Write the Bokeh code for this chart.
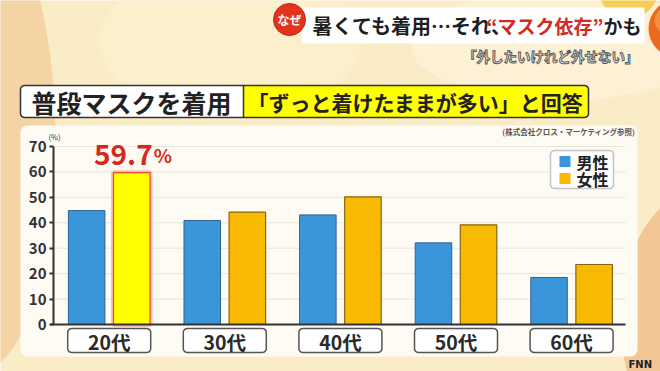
import numpy as np
from bokeh.plotting import figure
from bokeh.models import Range1d, FixedTicker, ColumnDataSource
from bokeh.core.properties import value
from bokeh.embed import file_html
from bokeh.resources import INLINE

# ---------------- data ----------------
cats = ["20代", "30代", "40代", "50代", "60代"]
series = ["男性", "女性"]
male = [44.8, 40.9, 43.1, 32.1, 18.5]
female = [59.7, 44.2, 50.2, 39.2, 23.6]
yticks = [0, 10, 20, 30, 40, 50, 60, 70]

badge = "なぜ"
title_a = "暑くても着用…それ、"
title_b = "“マスク依存”"
title_c = "かも"
subtitle = "「外したいけれど外せない」"
banner_l = "普段マスクを着用"
banner_r = "「ずっと着けたままが多い」と回答"
source = "(株式会社クロス・マーケティング参照)"
unit = "(%)"
logo = "FNN"

# ---------------- geometry ----------------
W, H = 660, 371
GX0, GDX = 108.7, 115.6        # px of first group centre, px per group
Y0, DY = 324.0, 178.0 / 70     # px of 0 %, px per %
x_lo, x_hi = -GX0 / GDX, (W - GX0) / GDX
y_lo, y_hi = -(H - Y0) / DY, Y0 / DY


def X(px):
    return x_lo + px / GDX


def Y(py):
    return (Y0 - py) / DY


def PX(x):
    return (x - x_lo) * GDX


def rrect(x0, y0, x1, y1, r, n=7):
    xs, ys = [], []
    for cx, cy, a0 in [(x1 - r, y0 + r, -90), (x1 - r, y1 - r, 0),
                       (x0 + r, y1 - r, 90), (x0 + r, y0 + r, 180)]:
        for a in np.linspace(a0, a0 + 90, n):
            t = np.radians(a)
            xs.append(X(cx + r * np.cos(t)))
            ys.append(Y(cy + r * np.sin(t)))
    return xs, ys


FONT = value("Noto Sans CJK JP")
BOLD = value("bold")
C_MALE, C_FEMALE, C_HI = "#3A96D9", "#F7BA00", "#FFFF00"

p = figure(width=W, height=H, x_range=Range1d(x_lo, x_hi), y_range=Range1d(y_lo, y_hi),
           output_backend="svg", toolbar_location=None, min_border=0)
p.background_fill_color = "#FAECC6"
p.border_fill_color = "#FAECC6"
p.outline_line_color = None
p.grid.visible = False
p.xaxis.visible = False

# ---------------- background ----------------
p.ellipse(x=[X(-20)], y=[Y(140)], width=[150 / GDX], height=[460 / DY],
          fill_color="#F2CC98", fill_alpha=0.75, line_color=None)
p.ellipse(x=[X(230)], y=[Y(40)], width=[260 / GDX], height=[160 / DY],
          fill_color="#FBF1CF", fill_alpha=0.7, line_color=None)
p.ellipse(x=[X(700)], y=[Y(320)], width=[160 / GDX], height=[260 / DY],
          fill_color="#F0BE88", fill_alpha=0.8, line_color=None)
p.ellipse(x=[X(560)], y=[Y(45)], width=[300 / GDX], height=[110 / DY],
          fill_color="#FCF4DC", fill_alpha=0.7, line_color=None)

# chart panel
xs, ys = rrect(20, 125, 637, 356, 7)
p.patch(xs, ys, fill_color="#FDFBF3", line_color=None)

# ---------------- header ----------------
p.scatter(x=[X(628)], y=[Y(-12)], size=60, marker="circle", fill_color="#F8CF55", line_color=None)
p.scatter(x=[X(677)], y=[Y(28)], size=58, marker="circle", fill_color="#EC6A1E", line_color=None)
p.scatter(x=[X(667)], y=[Y(20)], size=26, marker="circle", fill_color="#F7A04A", fill_alpha=0.7, line_color=None)

xs, ys = rrect(301, 7, 644, 43, 2)
p.patch(xs, ys, fill_color="#FFFFFF", line_color=None)
p.scatter(x=[X(289)], y=[Y(19)], size=32, marker="circle", fill_color="#E2331F", line_color="#C0210F")
p.text(x=[X(289)], y=[Y(19)], text=[badge], text_font=FONT, text_font_style=BOLD,
       text_font_size=value("12px"), text_color="#FFFFFF", text_align="center", text_baseline="middle")
p.text(x=[X(312)], y=[Y(25)], text=[title_a], text_font=FONT, text_font_style=BOLD,
       text_font_size=value("20px"), text_color="#1E1E1E", text_align="left", text_baseline="middle")
p.text(x=[X(486)], y=[Y(25)], text=[title_b], text_font=FONT, text_font_style=BOLD,
       text_font_size=value("19px"), text_color="#D42A22", text_align="left", text_baseline="middle")
p.text(x=[X(603)], y=[Y(25)], text=[title_c], text_font=FONT, text_font_style=BOLD,
       text_font_size=value("19px"), text_color="#1E1E1E", text_align="left", text_baseline="middle")
p.text(x=[X(638)], y=[Y(55)], text=[subtitle], text_font=FONT, text_font_style=BOLD,
       text_font_size=value("13.5px"), text_color="#FAFAFA", text_outline_color="#5A5A5A",
       text_align="right", text_baseline="middle")

# ---------------- banner ----------------
xs, ys = rrect(20, 85, 588, 117, 4)
p.patch(xs, ys, fill_color="#FFFF00", line_color=None)
xs, ys = rrect(20, 85, 250, 117, 4)
p.patch(xs, ys, fill_color="#FFFFFF", line_color=None)
p.quad(left=[X(243)], right=[X(252)], top=[Y(85)], bottom=[Y(117)], fill_color="#FFFF00", line_color=None)
p.segment(x0=[X(243)], y0=[Y(85)], x1=[X(243)], y1=[Y(117)], line_color="#333333", line_width=1.5)
xs, ys = rrect(20, 85, 588, 117, 4)
p.patch(xs, ys, fill_color=None, line_color="#333333", line_width=1.5)
p.text(x=[X(131)], y=[Y(101.5)], text=[banner_l], text_font=FONT, text_font_style=BOLD,
       text_font_size=value("25px"), text_color="#222222", text_align="center", text_baseline="middle")
p.text(x=[X(415)], y=[Y(101.5)], text=[banner_r], text_font=FONT, text_font_style=BOLD,
       text_font_size=value("21px"), text_color="#222222", text_align="center", text_baseline="middle")

p.text(x=[X(635)], y=[Y(131)], text=[source], text_font=FONT, text_font_style=BOLD,
       text_font_size=value("7.5px"), text_color="#555555", text_align="right", text_baseline="middle")
p.text(x=[X(48)], y=[Y(136)], text=[unit], text_font=FONT,
       text_font_size=value("7.5px"), text_color="#333333", text_align="left", text_baseline="middle")

# ---------------- grid ----------------
gy = yticks[1:]
p.segment(x0=[X(53)] * len(gy), y0=gy, x1=[X(625)] * len(gy), y1=gy,
          line_color="#E9E5D8", line_width=1)

# ---------------- bars ----------------
idx = np.arange(len(cats))
OFF, BW = 0.195, 0.316
hi = int(np.argmax(female))
fcol = [C_HI if i == hi else C_FEMALE for i in idx]
fline = ["#EC4A2A" if i == hi else "#86670F" for i in idx]
src_m = ColumnDataSource(dict(x=idx - OFF, top=male))
src_f = ColumnDataSource(dict(x=idx + OFF, top=female, fill=fcol, line=fline))

p.vbar(x="x", top="top", bottom=0, width=BW, source=src_m,
       fill_color=C_MALE, line_color="#2C6594", line_width=1)
p.vbar(x=[hi + OFF], top=[female[hi]], bottom=0, width=BW, fill_alpha=0,
       line_color="#F25A30", line_alpha=0.35, line_width=5)
p.vbar(x="x", top="top", bottom=0, width=BW, source=src_f,
       fill_color="fill", line_color="line", line_width=1.2)

p.segment(x0=[X(50)], y0=[0], x1=[X(625)], y1=[0], line_color="#333333", line_width=2)

# highlight label
lab_y = female[hi] + 18 / DY
p.text(x=[hi + OFF], y=[lab_y], text=[f"{female[hi]}"], x_offset=21,
       text_font=FONT, text_font_style=BOLD, text_font_size=value("28px"),
       text_color="#D8281E", text_align="right", text_baseline="alphabetic")
p.text(x=[hi + OFF], y=[lab_y], text=["%"], x_offset=22,
       text_font=FONT, text_font_style=BOLD, text_font_size=value("19px"),
       text_color="#D8281E", text_align="left", text_baseline="alphabetic")

# ---------------- category boxes ----------------
for i, c in enumerate(cats):
    cx = PX(i)
    xs, ys = rrect(cx - 41.5, 328, cx + 41.5, 352, 4)
    p.patch(xs, ys, fill_color="#FFFFFF", line_color="#555555", line_width=1.5)
p.text(x=idx, y=[Y(341)] * len(cats), text=cats, text_font=FONT, text_font_style=BOLD,
       text_font_size=value("19.5px"), text_color="#2A2A2A", text_align="center", text_baseline="middle")

p.text(x=[X(628)], y=[Y(364)], text=[logo], text_font=value("DejaVu Sans"), text_font_style=BOLD,
       text_font_size=value("10px"), text_color="#222222", text_align="left", text_baseline="middle")

# ---------------- legend ----------------
xs, ys = rrect(550, 150, 613, 188, 4)
p.patch(xs, ys, fill_color="#FFFFFF", line_color="#C4C4C4", line_width=1.5)
sw_col = [C_MALE, C_FEMALE]
sw_y = [161, 178]
p.quad(left=[X(559)] * 2, right=[X(570)] * 2, top=[Y(v - 5.5) for v in sw_y],
       bottom=[Y(v + 5.5) for v in sw_y], fill_color=sw_col, line_color=None)
p.text(x=[X(576)] * 2, y=[Y(v) for v in sw_y], text=series, text_font=FONT, text_font_style=BOLD,
       text_font_size=value("16px"), text_color="#222222", text_align="left", text_baseline="middle")

# ---------------- y axis ----------------
ax = p.yaxis[0]
ax.fixed_location = X(53)
ax.ticker = FixedTicker(ticks=yticks)
ax.bounds = (0, 70)
ax.axis_line_color = "#333333"
ax.axis_line_width = 2
ax.major_tick_line_color = "#333333"
ax.major_tick_line_width = 2
ax.major_tick_out = 4
ax.major_tick_in = 0
ax.minor_tick_line_color = None
ax.major_label_standoff = 3
ax.major_label_text_font = "Noto Sans CJK JP"
ax.major_label_text_font_style = "bold"
ax.major_label_text_font_size = "15px"
ax.major_label_text_color = "#333333"

open("out.html", "w").write(file_html(p, INLINE))
